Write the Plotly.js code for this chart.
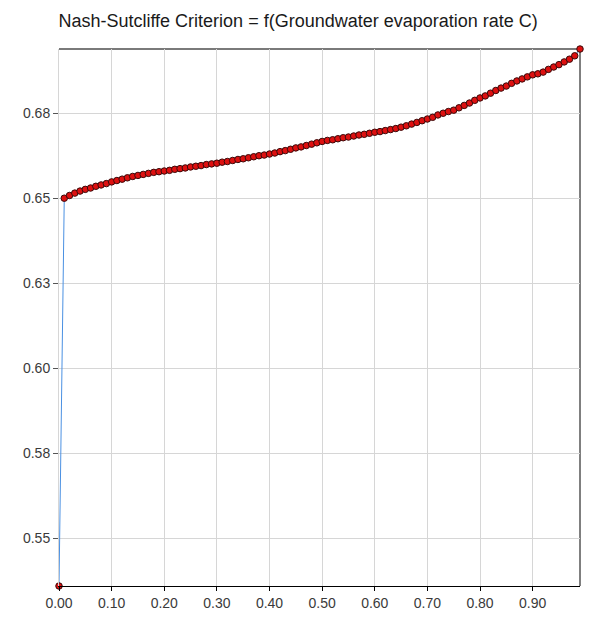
<!DOCTYPE html>
<html>
<head>
<meta charset="utf-8">
<script src="https://cdn.plot.ly/plotly-3.0.1.min.js"></script>
<style>html,body{margin:0;padding:0;background:#fff}</style>
</head>
<body>
<div id="chart" style="width:601px;height:625px"></div>
<script>
// Groundwater evaporation rate C (x) and Nash-Sutcliffe criterion (y)
const evapRate = [
  0.00, 0.01, 0.02, 0.03, 0.04, 0.05, 0.06, 0.07, 0.08, 0.09,
  0.10, 0.11, 0.12, 0.13, 0.14, 0.15, 0.16, 0.17, 0.18, 0.19,
  0.20, 0.21, 0.22, 0.23, 0.24, 0.25, 0.26, 0.27, 0.28, 0.29,
  0.30, 0.31, 0.32, 0.33, 0.34, 0.35, 0.36, 0.37, 0.38, 0.39,
  0.40, 0.41, 0.42, 0.43, 0.44, 0.45, 0.46, 0.47, 0.48, 0.49,
  0.50, 0.51, 0.52, 0.53, 0.54, 0.55, 0.56, 0.57, 0.58, 0.59,
  0.60, 0.61, 0.62, 0.63, 0.64, 0.65, 0.66, 0.67, 0.68, 0.69,
  0.70, 0.71, 0.72, 0.73, 0.74, 0.75, 0.76, 0.77, 0.78, 0.79,
  0.80, 0.81, 0.82, 0.83, 0.84, 0.85, 0.86, 0.87, 0.88, 0.89,
  0.90, 0.91, 0.92, 0.93, 0.94, 0.95, 0.96, 0.97, 0.98, 0.99
];
const nashSutcliffe = [
  0.5359, 0.6500, 0.6508, 0.6515, 0.6521, 0.6526, 0.6530, 0.6535, 0.6539, 0.6543,
  0.6548, 0.6552, 0.6556, 0.6560, 0.6564, 0.6567, 0.6570, 0.6573, 0.6576, 0.6578,
  0.6580, 0.6582, 0.6585, 0.6587, 0.6589, 0.6592, 0.6594, 0.6596, 0.6599, 0.6601,
  0.6603, 0.6606, 0.6608, 0.6611, 0.6614, 0.6616, 0.6619, 0.6622, 0.6625, 0.6627,
  0.6630, 0.6633, 0.6637, 0.6640, 0.6644, 0.6648, 0.6651, 0.6655, 0.6659, 0.6663,
  0.6667, 0.6670, 0.6672, 0.6675, 0.6678, 0.6680, 0.6683, 0.6686, 0.6688, 0.6691,
  0.6694, 0.6696, 0.6699, 0.6702, 0.6705, 0.6709, 0.6713, 0.6718, 0.6723, 0.6728,
  0.6733, 0.6738, 0.6745, 0.6750, 0.6755, 0.6759, 0.6766, 0.6773, 0.6780, 0.6788,
  0.6795, 0.6801, 0.6809, 0.6817, 0.6824, 0.6830, 0.6838, 0.6845, 0.6851, 0.6857,
  0.6863, 0.6866, 0.6871, 0.6879, 0.6886, 0.6893, 0.6901, 0.6909, 0.6919, 0.6939
];
const xTickVals = [0.0, 0.1, 0.2, 0.3, 0.4, 0.5, 0.6, 0.7, 0.8, 0.9];
const xTickText = ['0.00', '0.10', '0.20', '0.30', '0.40', '0.50', '0.60', '0.70', '0.80', '0.90'];
const yTickVals = [0.55, 0.575, 0.60, 0.625, 0.65, 0.675];
const yTickText = ['0.55', '0.58', '0.60', '0.63', '0.65', '0.68'];
const chartTitle = 'Nash-Sutcliffe Criterion = f(Groundwater evaporation rate C)';

const xMin = Math.min(...evapRate), xMax = Math.max(...evapRate);
const yMin = Math.min(...nashSutcliffe), yMax = Math.max(...nashSutcliffe);

const trace = {
  x: evapRate,
  y: nashSutcliffe,
  type: 'scatter',
  mode: 'lines+markers',
  cliponaxis: false,
  line: {color: '#4a90e2', width: 1},
  marker: {color: '#dd1010', size: 6.5, line: {color: '#3a0a0a', width: 1}},
  hoverinfo: 'x+y'
};

const layout = {
  width: 601,
  height: 625,
  margin: {l: 59, r: 21, t: 49, b: 39, pad: 0},
  paper_bgcolor: '#ffffff',
  plot_bgcolor: '#ffffff',
  showlegend: false,
  font: {family: '"Liberation Sans", Arial, sans-serif', size: 14, color: '#3a3a3a'},
  title: {
    text: chartTitle,
    font: {family: '"Liberation Sans", Arial, sans-serif', size: 18, color: '#1a1a1a'},
    x: 0.496, xref: 'container', xanchor: 'center',
    y: 0.967, yref: 'container', yanchor: 'middle'
  },
  xaxis: {
    range: [xMin, xMax],
    tickvals: xTickVals,
    ticktext: xTickText,
    showgrid: true,
    gridcolor: '#d6d6d6',
    gridwidth: 1,
    zeroline: false,
    showline: true,
    linecolor: '#000000',
    linewidth: 1,
    ticks: 'outside',
    ticklen: 4,
    tickcolor: '#000000',
    tickfont: {size: 14, color: '#3a3a3a'}
  },
  yaxis: {
    range: [yMin, yMax],
    tickvals: yTickVals,
    ticktext: yTickText,
    showgrid: true,
    gridcolor: '#d6d6d6',
    gridwidth: 1,
    zeroline: false,
    showline: true,
    linecolor: '#d6d6d6',
    linewidth: 1,
    ticks: 'outside',
    ticklen: 5,
    tickcolor: '#555555',
    tickfont: {size: 14, color: '#3a3a3a'}
  },
  shapes: [
    {type: 'line', xref: 'paper', yref: 'paper', x0: 0, x1: 1, y0: 1, y1: 1,
     line: {color: '#7a7a7a', width: 2}, layer: 'below'},
    {type: 'line', xref: 'paper', yref: 'paper', x0: 1, x1: 1, y0: 0, y1: 1,
     line: {color: '#000000', width: 1}, layer: 'below'}
  ]
};

Plotly.newPlot('chart', [trace], layout, {displayModeBar: false, staticPlot: true});
</script>
</body>
</html>
